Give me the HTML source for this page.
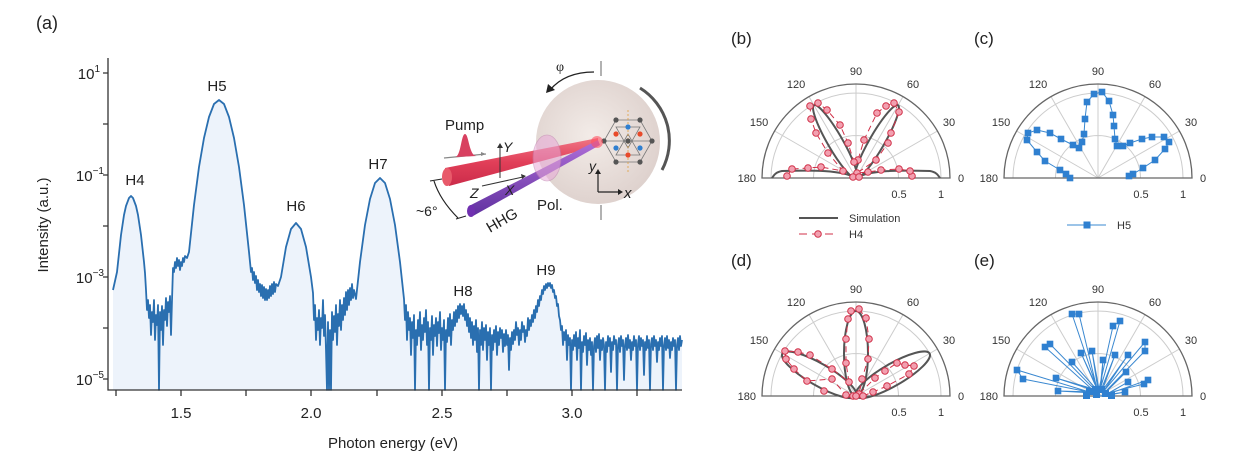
<!DOCTYPE html>
<html><head><meta charset="utf-8"><style>
html,body{margin:0;padding:0;background:#fff;}
svg{display:block;font-family:"Liberation Sans",Arial,sans-serif;}
</style></head><body>
<svg width="1254" height="468" viewBox="0 0 1254 468" xmlns="http://www.w3.org/2000/svg">
<defs>
<linearGradient id="red" x1="0" y1="0" x2="0" y2="1"><stop offset="0" stop-color="#f07080"/><stop offset="0.5" stop-color="#e03550"/><stop offset="1" stop-color="#c82040"/></linearGradient>
<linearGradient id="pur" x1="0" y1="0" x2="0" y2="1"><stop offset="0" stop-color="#b070d8"/><stop offset="1" stop-color="#6030a0"/></linearGradient>
<radialGradient id="disc" cx="0.45" cy="0.45" r="0.6"><stop offset="0" stop-color="#f3ece8"/><stop offset="1" stop-color="#ddd0cc"/></radialGradient>
<g id="frm">
<path d="M-42.5,0 A42.5,42.5 0 0 1 42.5,0 M-85,0 A85,85 0 0 1 85,0 M0,0 L81.4,-47 M0,0 L47,-81.4 M0,0 L0,-94 M0,0 L-47,-81.4 M0,0 L-81.4,-47" fill="none" stroke="#ccc" stroke-width="1"/>
<path d="M-94,0 A94,94 0 0 1 94,0 Z" fill="none" stroke="#666" stroke-width="1.3"/>
</g>
</defs>
<rect width="1254" height="468" fill="#fff"/>
<text x="36" y="29" font-size="18" fill="#222">(a)</text>

<!-- spectrum -->
<path id="spec" fill="#edf3fb" stroke="none" d="M113,390 L113,290 117,272 121,235 124,215 126,206 129,198 131,196 133,198 136,206 138,215 141,235 144,262 145,273 146,290 147,310 148,300 149,318 150,305 151,335 152,312 153,322 154,300 155,340 156,315 157,325 158,305 159,390 160,312 161,330 162,306 163,345 164,310 165,320 166,298 167,326 168,302 169,312 170,296 171,335 172,300 173,268 174,272 175,262 176,268 177,258 178,266 179,260 180,270 181,262 182,266 183,258 184,262 185,256 187,258 189,252 194,205 199,167 204,138 209,117 214,104 219,100 224,104 229,117 234,138 239,167 244,205 249,252 250,262 251,272 252,268 253,280 254,272 255,283 256,276 257,290 258,280 259,292 260,284 261,296 262,285 263,298 264,287 265,300 266,289 267,300 268,290 269,298 270,286 271,296 272,284 273,294 274,282 275,292 276,284 278,286 281,277 286,247 291,229 296,223 301,229 306,247 311,277 313,293 314,320 315,305 316,340 317,318 318,330 319,310 320,345 321,318 322,328 323,300 324,336 325,315 326,350 327,390 328,322 329,390 330,330 331,390 332,312 333,340 334,316 335,332 336,305 337,345 338,314 339,326 340,300 341,330 342,305 343,320 344,298 345,315 346,292 347,310 348,290 349,305 350,288 351,300 352,284 353,298 354,290 356,299 360,262 365,225 370,199 375,183 380,178 385,183 390,199 395,225 400,262 404,299 405,320 406,305 407,340 408,312 409,330 410,318 411,355 412,322 413,338 414,315 415,390 416,330 417,345 418,320 419,336 420,312 421,350 422,325 423,340 424,318 425,332 426,310 427,345 428,322 429,390 430,328 431,340 432,316 433,355 434,325 435,336 436,318 437,346 438,322 439,333 440,312 441,350 442,328 443,340 444,320 445,390 446,330 447,342 448,318 449,336 450,314 451,345 452,320 453,330 454,312 455,326 456,310 457,322 458,306 459,318 460,304 461,314 462,306 463,316 464,304 465,320 466,310 467,326 468,314 469,332 470,318 471,338 472,322 473,345 474,326 475,340 476,320 477,352 478,328 479,390 480,330 481,345 482,322 483,350 484,328 485,340 486,325 487,360 488,332 489,345 490,328 491,390 492,335 493,350 494,330 495,342 496,326 497,355 498,332 499,345 500,328 501,338 502,330 503,352 504,334 505,346 506,330 507,345 508,335 509,370 510,338 511,350 512,332 513,344 514,330 515,340 516,322 517,335 518,328 519,345 520,330 521,340 522,322 523,332 524,326 525,342 526,330 527,336 528,318 529,330 530,320 531,326 532,315 533,322 534,310 535,318 536,306 537,312 538,300 539,306 540,296 541,300 542,290 543,294 544,286 545,290 546,284 547,288 548,283 549,286 550,283 551,288 552,285 553,292 554,290 555,298 556,296 557,306 558,304 559,316 560,320 561,330 562,326 563,345 564,332 565,340 566,330 567,360 568,335 569,345 570,338 571,390 572,340 573,350 574,335 575,346 576,332 577,360 578,338 579,348 580,330 581,390 582,342 583,352 584,336 585,345 586,333 587,365 588,340 589,350 590,338 591,355 592,342 593,390 594,346 595,338 596,352 597,336 598,348 599,334 600,360 601,340 602,350 603,338 604,345 605,390 606,342 607,352 608,336 609,346 610,338 611,372 612,342 613,350 614,336 615,344 616,340 617,390 618,345 619,338 620,352 621,336 622,346 623,340 624,380 625,345 626,338 627,350 628,335 629,348 630,340 631,360 632,342 633,350 634,336 635,346 636,340 637,390 638,344 639,336 640,350 641,338 642,346 643,340 644,375 645,342 646,350 647,336 648,348 649,340 650,390 651,344 652,338 653,350 654,336 655,346 656,340 657,362 658,342 659,350 660,338 661,346 662,336 663,390 664,345 665,338 666,350 667,336 668,348 669,340 670,358 671,342 672,350 673,338 674,346 675,340 676,390 677,345 678,338 679,350 680,336 681,346 682,340 L682,390 Z"/>
<path fill="none" stroke="#2a6fb0" stroke-width="1.8" stroke-linejoin="round" d="M113,290 117,272 121,235 124,215 126,206 129,198 131,196 133,198 136,206 138,215 141,235 144,262 145,273 146,290 147,310 148,300 149,318 150,305 151,335 152,312 153,322 154,300 155,340 156,315 157,325 158,305 159,390 160,312 161,330 162,306 163,345 164,310 165,320 166,298 167,326 168,302 169,312 170,296 171,335 172,300 173,268 174,272 175,262 176,268 177,258 178,266 179,260 180,270 181,262 182,266 183,258 184,262 185,256 187,258 189,252 194,205 199,167 204,138 209,117 214,104 219,100 224,104 229,117 234,138 239,167 244,205 249,252 250,262 251,272 252,268 253,280 254,272 255,283 256,276 257,290 258,280 259,292 260,284 261,296 262,285 263,298 264,287 265,300 266,289 267,300 268,290 269,298 270,286 271,296 272,284 273,294 274,282 275,292 276,284 278,286 281,277 286,247 291,229 296,223 301,229 306,247 311,277 313,293 314,320 315,305 316,340 317,318 318,330 319,310 320,345 321,318 322,328 323,300 324,336 325,315 326,350 327,390 328,322 329,390 330,330 331,390 332,312 333,340 334,316 335,332 336,305 337,345 338,314 339,326 340,300 341,330 342,305 343,320 344,298 345,315 346,292 347,310 348,290 349,305 350,288 351,300 352,284 353,298 354,290 356,299 360,262 365,225 370,199 375,183 380,178 385,183 390,199 395,225 400,262 404,299 405,320 406,305 407,340 408,312 409,330 410,318 411,355 412,322 413,338 414,315 415,390 416,330 417,345 418,320 419,336 420,312 421,350 422,325 423,340 424,318 425,332 426,310 427,345 428,322 429,390 430,328 431,340 432,316 433,355 434,325 435,336 436,318 437,346 438,322 439,333 440,312 441,350 442,328 443,340 444,320 445,390 446,330 447,342 448,318 449,336 450,314 451,345 452,320 453,330 454,312 455,326 456,310 457,322 458,306 459,318 460,304 461,314 462,306 463,316 464,304 465,320 466,310 467,326 468,314 469,332 470,318 471,338 472,322 473,345 474,326 475,340 476,320 477,352 478,328 479,390 480,330 481,345 482,322 483,350 484,328 485,340 486,325 487,360 488,332 489,345 490,328 491,390 492,335 493,350 494,330 495,342 496,326 497,355 498,332 499,345 500,328 501,338 502,330 503,352 504,334 505,346 506,330 507,345 508,335 509,370 510,338 511,350 512,332 513,344 514,330 515,340 516,322 517,335 518,328 519,345 520,330 521,340 522,322 523,332 524,326 525,342 526,330 527,336 528,318 529,330 530,320 531,326 532,315 533,322 534,310 535,318 536,306 537,312 538,300 539,306 540,296 541,300 542,290 543,294 544,286 545,290 546,284 547,288 548,283 549,286 550,283 551,288 552,285 553,292 554,290 555,298 556,296 557,306 558,304 559,316 560,320 561,330 562,326 563,345 564,332 565,340 566,330 567,360 568,335 569,345 570,338 571,390 572,340 573,350 574,335 575,346 576,332 577,360 578,338 579,348 580,330 581,390 582,342 583,352 584,336 585,345 586,333 587,365 588,340 589,350 590,338 591,355 592,342 593,390 594,346 595,338 596,352 597,336 598,348 599,334 600,360 601,340 602,350 603,338 604,345 605,390 606,342 607,352 608,336 609,346 610,338 611,372 612,342 613,350 614,336 615,344 616,340 617,390 618,345 619,338 620,352 621,336 622,346 623,340 624,380 625,345 626,338 627,350 628,335 629,348 630,340 631,360 632,342 633,350 634,336 635,346 636,340 637,390 638,344 639,336 640,350 641,338 642,346 643,340 644,375 645,342 646,350 647,336 648,348 649,340 650,390 651,344 652,338 653,350 654,336 655,346 656,340 657,362 658,342 659,350 660,338 661,346 662,336 663,390 664,345 665,338 666,350 667,336 668,348 669,340 670,358 671,342 672,350 673,338 674,346 675,340 676,390 677,345 678,338 679,350 680,336 681,346 682,340"/>

<!-- axes -->
<g stroke="#333" stroke-width="1.3" fill="none">
<path d="M108,58 V390 H682"/>
<path d="M103,73H108M103,124H108M103,175H108M103,226H108M103,277H108M103,328H108M103,379H108"/>
<path d="M116,390V396M181,390V396M246,390V396M311,390V396M377,390V396M442,390V396M507,390V396M572,390V396M637,390V396"/>
</g>
<g font-size="15" fill="#222" text-anchor="end">
<text x="100" y="79">10<tspan font-size="10" dy="-7">1</tspan></text>
<text x="104" y="181">10<tspan font-size="10" dy="-7">−1</tspan></text>
<text x="104" y="283">10<tspan font-size="10" dy="-7">−3</tspan></text>
<text x="104" y="385">10<tspan font-size="10" dy="-7">−5</tspan></text>
</g>
<g font-size="15" fill="#222" text-anchor="middle">
<text x="181" y="418">1.5</text><text x="311" y="418">2.0</text><text x="442" y="418">2.5</text><text x="572" y="418">3.0</text>
<text x="393" y="448">Photon energy (eV)</text>
<text transform="translate(48,225) rotate(-90)">Intensity (a.u.)</text>
<text x="135" y="185">H4</text><text x="217" y="91">H5</text><text x="296" y="211">H6</text>
<text x="378" y="169">H7</text><text x="463" y="296">H8</text><text x="546" y="275">H9</text>
</g>

<!-- inset -->
<g>
<line x1="601" y1="61" x2="601" y2="76" stroke="#999" stroke-width="1.5"/>
<line x1="601" y1="205" x2="601" y2="220" stroke="#999" stroke-width="1.5"/>
<circle cx="598" cy="142" r="62" fill="url(#disc)"/>
<path d="M640,88 A62,62 0 0 1 662,170" stroke="#555" stroke-width="3" fill="none"/>
<path d="M594,72 Q565,72 550,90" stroke="#222" stroke-width="1.3" fill="none"/>
<path d="M546,93 L548,84 L555,90 Z" fill="#222"/>
<text x="556" y="71" font-size="14" font-family="Liberation Serif,serif" fill="#222">φ</text>
<g stroke="#777" stroke-width="0.8" fill="none">
<polygon points="604,141 616,120 640,120 652,141 640,162 616,162"/>
<polygon points="616,127 640,127 628,148"/><polygon points="616,155 640,155 628,134"/>
<line x1="604" y1="141" x2="652" y2="141"/>
</g>
<line x1="628" y1="110" x2="628" y2="172" stroke="#e0a040" stroke-width="0.8" stroke-dasharray="2,2"/>
<g fill="#555"><circle cx="604" cy="141" r="2.6"/><circle cx="652" cy="141" r="2.6"/><circle cx="616" cy="120" r="2.6"/><circle cx="640" cy="120" r="2.6"/><circle cx="616" cy="162" r="2.6"/><circle cx="640" cy="162" r="2.6"/><circle cx="628" cy="141" r="2.6"/></g>
<g fill="#e84a2a"><circle cx="616" cy="134" r="2.6"/><circle cx="640" cy="134" r="2.6"/><circle cx="628" cy="155" r="2.6"/></g>
<g fill="#2f7fd0"><circle cx="628" cy="127" r="2.6"/><circle cx="616" cy="148" r="2.6"/><circle cx="640" cy="148" r="2.6"/></g>
<path d="M445,168 L598,138 L598,146 L449,186 Z" fill="url(#red)" opacity="0.95"/>
<ellipse cx="447" cy="177" rx="5" ry="9" fill="#e85a6a"/>
<path d="M469,206 L598,140 L600,145 L473,216 Z" fill="url(#pur)"/>
<ellipse cx="471" cy="211" rx="4" ry="6" fill="#7030b0"/>
<circle cx="597" cy="142" r="6" fill="#ff5060" opacity="0.6"/>
<ellipse cx="547" cy="158" rx="14" ry="23" fill="#e8a8d8" opacity="0.55" stroke="#c080b0" stroke-width="0.8"/>
<path d="M444,158 L486,154" stroke="#888" stroke-width="1.2"/><path d="M486,154 l-5,-2 l0,4 z" fill="#888"/>
<path d="M455,157 C461,157 461,134 465,134 C469,134 469,157 477,156 Z" fill="#d84060"/>
<text x="445" y="130" font-size="15" fill="#222">Pump</text>
<g stroke="#333" stroke-width="1" fill="none"><path d="M500,178 V146"/><path d="M482,186 L523,177"/></g>
<path d="M500,143 l-3,5 h6z M526,176 l-5,-2 l1,5z" fill="#333"/>
<text x="503" y="152" font-size="14" font-style="italic" fill="#222">Y</text>
<text x="470" y="198" font-size="14" font-style="italic" fill="#222">Z</text>
<text x="505" y="195" font-size="14" font-style="italic" fill="#222">X</text>
<path d="M434,181 Q440,200 458,218" stroke="#222" stroke-width="1.2" fill="none"/>
<line x1="430" y1="181" x2="442" y2="179" stroke="#222"/><line x1="456" y1="219" x2="466" y2="216" stroke="#222"/>
<text x="416" y="216" font-size="14" fill="#222">~6°</text>
<text transform="translate(490,233) rotate(-30)" font-size="15" fill="#222">HHG</text>
<text x="537" y="210" font-size="15" fill="#222">Pol.</text>
<g stroke="#222" stroke-width="1.2"><path d="M598,192 V172 M598,192 H620"/></g>
<path d="M598,169 l-3,5 h6z M623,192 l-5,-3 v6z" fill="#222"/>
<text x="589" y="171" font-size="14" font-style="italic" fill="#222">y</text>
<text x="624" y="198" font-size="15" font-style="italic" fill="#222">x</text>
</g>

<g font-size="17" fill="#222">
<text x="731" y="44">(b)</text><text x="974" y="44">(c)</text>
<text x="731" y="266">(d)</text><text x="974" y="266">(e)</text>
</g>

<!-- polar frames -->
<use href="#frm" transform="translate(856,178)"/>
<use href="#frm" transform="translate(1098,178)"/>
<use href="#frm" transform="translate(856,396)"/>
<use href="#frm" transform="translate(1098,396)"/>
<g font-size="11" fill="#333" text-anchor="middle">
<g transform="translate(856,178)"><text x="0" y="-103">90</text><text x="-60" y="-90">120</text><text x="57" y="-90">60</text><text x="-97" y="-52">150</text><text x="93" y="-52">30</text><text x="-100" y="4" text-anchor="end">180</text><text x="102" y="4" text-anchor="start">0</text><text x="43" y="20">0.5</text><text x="85" y="20">1</text></g>
<g transform="translate(1098,178)"><text x="0" y="-103">90</text><text x="-60" y="-90">120</text><text x="57" y="-90">60</text><text x="-97" y="-52">150</text><text x="93" y="-52">30</text><text x="-100" y="4" text-anchor="end">180</text><text x="102" y="4" text-anchor="start">0</text><text x="43" y="20">0.5</text><text x="85" y="20">1</text></g>
<g transform="translate(856,396)"><text x="0" y="-103">90</text><text x="-60" y="-90">120</text><text x="57" y="-90">60</text><text x="-97" y="-52">150</text><text x="93" y="-52">30</text><text x="-100" y="4" text-anchor="end">180</text><text x="102" y="4" text-anchor="start">0</text><text x="43" y="20">0.5</text><text x="85" y="20">1</text></g>
<g transform="translate(1098,396)"><text x="0" y="-103">90</text><text x="-60" y="-90">120</text><text x="57" y="-90">60</text><text x="-97" y="-52">150</text><text x="93" y="-52">30</text><text x="-100" y="4" text-anchor="end">180</text><text x="102" y="4" text-anchor="start">0</text><text x="43" y="20">0.5</text><text x="85" y="20">1</text></g>
</g>

<!-- (b) simulation -->
<g fill="none" stroke="#555" stroke-width="2">
<ellipse cx="877" cy="141.6" rx="42" ry="7.5" transform="rotate(-60 877 141.6)"/>
<ellipse cx="835" cy="141.6" rx="42" ry="7.5" transform="rotate(60 835 141.6)"/>
<path d="M856,178 C870,170 900,170 930,171 C936,172 938,175 940,178"/>
<path d="M856,178 C842,170 812,170 782,171 C776,172 774,175 772,178"/>
</g>
<polyline fill="none" stroke="#d03048" stroke-width="1" stroke-dasharray="6,4" points="912,176 910,171 899,169 881,170 868,172 857,173 876,160 888,143 891,133 899,112 894,103 886,106 877,113 864,140 858,160 854,162 848,143 840,125 827,110 818,103 810,106 811,119 816,133 828,153 843,171 821,167 808,168 792,169 787,176"/>
<g fill="#f2a0b0" stroke="#d03048" stroke-width="1">
<circle cx="912" cy="176" r="3.3"/><circle cx="910" cy="171" r="3.3"/><circle cx="899" cy="169" r="3.3"/><circle cx="881" cy="170" r="3.3"/><circle cx="868" cy="172" r="3.3"/><circle cx="857" cy="173" r="3.3"/><circle cx="876" cy="160" r="3.3"/><circle cx="888" cy="143" r="3.3"/><circle cx="891" cy="133" r="3.3"/><circle cx="899" cy="112" r="3.3"/><circle cx="894" cy="103" r="3.3"/><circle cx="886" cy="106" r="3.3"/><circle cx="877" cy="113" r="3.3"/><circle cx="864" cy="140" r="3.3"/><circle cx="858" cy="160" r="3.3"/><circle cx="854" cy="162" r="3.3"/><circle cx="848" cy="143" r="3.3"/><circle cx="840" cy="125" r="3.3"/><circle cx="827" cy="110" r="3.3"/><circle cx="818" cy="103" r="3.3"/><circle cx="810" cy="106" r="3.3"/><circle cx="811" cy="119" r="3.3"/><circle cx="816" cy="133" r="3.3"/><circle cx="828" cy="153" r="3.3"/><circle cx="843" cy="171" r="3.3"/><circle cx="821" cy="167" r="3.3"/><circle cx="808" cy="168" r="3.3"/><circle cx="792" cy="169" r="3.3"/><circle cx="787" cy="176" r="3.3"/><circle cx="853" cy="177" r="3.3"/><circle cx="859" cy="177" r="3.3"/>
</g>

<!-- (d) simulation -->
<g fill="none" stroke="#555" stroke-width="2">
<ellipse cx="856" cy="353.5" rx="12" ry="42.5"/>
<ellipse cx="819.2" cy="374.75" rx="42.5" ry="11" transform="rotate(30 819.2 374.75)"/>
<ellipse cx="892.8" cy="374.75" rx="42.5" ry="11" transform="rotate(-30 892.8 374.75)"/>
</g>
<polyline fill="none" stroke="#d03048" stroke-width="1" stroke-dasharray="6,4" points="863,396 873,392 887,386 909,374 914,366 905,365 897,363 885,371 875,378 859,394 862,379 868,359 869,339 866,318 859,309 851,311 848,319 846,339 846,363 849,382 832,369 810,355 798,352 785,351 786,359 794,369 807,381 832,379 846,395 853,396"/>
<g fill="#f2a0b0" stroke="#d03048" stroke-width="1">
<circle cx="851" cy="311" r="3.3"/><circle cx="859" cy="309" r="3.3"/><circle cx="866" cy="318" r="3.3"/><circle cx="869" cy="339" r="3.3"/><circle cx="868" cy="359" r="3.3"/><circle cx="862" cy="379" r="3.3"/><circle cx="849" cy="382" r="3.3"/><circle cx="846" cy="363" r="3.3"/><circle cx="846" cy="339" r="3.3"/><circle cx="848" cy="319" r="3.3"/>
<circle cx="785" cy="351" r="3.3"/><circle cx="786" cy="359" r="3.3"/><circle cx="798" cy="352" r="3.3"/><circle cx="810" cy="355" r="3.3"/><circle cx="794" cy="369" r="3.3"/><circle cx="807" cy="381" r="3.3"/><circle cx="832" cy="379" r="3.3"/><circle cx="832" cy="369" r="3.3"/><circle cx="824" cy="391" r="3.3"/><circle cx="846" cy="395" r="3.3"/><circle cx="853" cy="396" r="3.3"/>
<circle cx="897" cy="363" r="3.3"/><circle cx="905" cy="365" r="3.3"/><circle cx="914" cy="366" r="3.3"/><circle cx="909" cy="374" r="3.3"/><circle cx="885" cy="371" r="3.3"/><circle cx="875" cy="378" r="3.3"/><circle cx="887" cy="386" r="3.3"/><circle cx="873" cy="392" r="3.3"/><circle cx="859" cy="394" r="3.3"/><circle cx="856" cy="396" r="3.3"/><circle cx="863" cy="396" r="3.3"/>
</g>

<!-- (c) H5 -->
<polyline fill="none" stroke="#3a88d0" stroke-width="1" points="1070,178 1066,174 1060,170 1045,161 1037,152 1027,140 1028,133 1037,130 1050,133 1061,139 1073,145 1079,148 1082,142 1084,134 1085,119 1087,102 1094,94 1102,92 1109,101 1113,115 1114,126 1115,139 1117,146 1123,146 1130,143 1142,139 1152,137 1164,137 1169,142 1165,149 1155,160 1143,168 1133,174 1129,176"/>
<g fill="#2f80d0">
<rect x="1066.7" y="174.7" width="6.6" height="6.6"/><rect x="1062.7" y="170.7" width="6.6" height="6.6"/><rect x="1056.7" y="166.7" width="6.6" height="6.6"/><rect x="1041.7" y="157.7" width="6.6" height="6.6"/><rect x="1033.7" y="148.7" width="6.6" height="6.6"/><rect x="1023.7" y="136.7" width="6.6" height="6.6"/><rect x="1024.7" y="129.7" width="6.6" height="6.6"/><rect x="1033.7" y="126.7" width="6.6" height="6.6"/><rect x="1046.7" y="129.7" width="6.6" height="6.6"/><rect x="1057.7" y="135.7" width="6.6" height="6.6"/><rect x="1069.7" y="141.7" width="6.6" height="6.6"/><rect x="1075.7" y="144.7" width="6.6" height="6.6"/><rect x="1078.7" y="138.7" width="6.6" height="6.6"/><rect x="1080.7" y="130.7" width="6.6" height="6.6"/><rect x="1081.7" y="115.7" width="6.6" height="6.6"/><rect x="1083.7" y="98.7" width="6.6" height="6.6"/><rect x="1090.7" y="90.7" width="6.6" height="6.6"/><rect x="1098.7" y="88.7" width="6.6" height="6.6"/><rect x="1105.7" y="97.7" width="6.6" height="6.6"/><rect x="1109.7" y="111.7" width="6.6" height="6.6"/><rect x="1110.7" y="122.7" width="6.6" height="6.6"/><rect x="1111.7" y="135.7" width="6.6" height="6.6"/><rect x="1113.7" y="142.7" width="6.6" height="6.6"/><rect x="1119.7" y="142.7" width="6.6" height="6.6"/><rect x="1126.7" y="139.7" width="6.6" height="6.6"/><rect x="1138.7" y="135.7" width="6.6" height="6.6"/><rect x="1148.7" y="133.7" width="6.6" height="6.6"/><rect x="1160.7" y="133.7" width="6.6" height="6.6"/><rect x="1165.7" y="138.7" width="6.6" height="6.6"/><rect x="1161.7" y="145.7" width="6.6" height="6.6"/><rect x="1151.7" y="156.7" width="6.6" height="6.6"/><rect x="1139.7" y="164.7" width="6.6" height="6.6"/><rect x="1129.7" y="170.7" width="6.6" height="6.6"/><rect x="1125.7" y="172.7" width="6.6" height="6.6"/>
</g>

<!-- (e) -->
<polyline fill="none" stroke="#3a88d0" stroke-width="1" points="1096,394 1017,370 1023,379 1094,393 1058,391 1095,392 1045,347 1050,344 1096,391 1056,378 1097,390 1072,362 1098,391 1072,314 1079,314 1097,389 1081,353 1098,390 1092,351 1099,389 1113,326 1120,321 1100,390 1103,360 1101,390 1115,355 1102,391 1128,355 1103,392 1145,342 1145,351 1104,393 1126,372 1104,394 1144,384 1148,380 1105,395 1128,382 1104,396 1125,392 1100,396"/>
<g fill="#2f80d0">
<rect x="1013.7" y="366.7" width="6.6" height="6.6"/><rect x="1019.7" y="375.7" width="6.6" height="6.6"/><rect x="1054.7" y="387.7" width="6.6" height="6.6"/><rect x="1041.7" y="343.7" width="6.6" height="6.6"/><rect x="1046.7" y="340.7" width="6.6" height="6.6"/><rect x="1052.7" y="374.7" width="6.6" height="6.6"/><rect x="1068.7" y="358.7" width="6.6" height="6.6"/><rect x="1077.7" y="349.7" width="6.6" height="6.6"/><rect x="1068.7" y="310.7" width="6.6" height="6.6"/><rect x="1075.7" y="310.7" width="6.6" height="6.6"/><rect x="1088.7" y="347.7" width="6.6" height="6.6"/><rect x="1099.7" y="356.7" width="6.6" height="6.6"/><rect x="1109.7" y="322.7" width="6.6" height="6.6"/><rect x="1116.7" y="317.7" width="6.6" height="6.6"/><rect x="1111.7" y="351.7" width="6.6" height="6.6"/><rect x="1124.7" y="351.7" width="6.6" height="6.6"/><rect x="1141.7" y="338.7" width="6.6" height="6.6"/><rect x="1141.7" y="347.7" width="6.6" height="6.6"/><rect x="1122.7" y="368.7" width="6.6" height="6.6"/><rect x="1140.7" y="380.7" width="6.6" height="6.6"/><rect x="1144.7" y="376.7" width="6.6" height="6.6"/><rect x="1124.7" y="378.7" width="6.6" height="6.6"/><rect x="1121.7" y="388.7" width="6.6" height="6.6"/>
<rect x="1086" y="388" width="7" height="7"/><rect x="1092" y="386" width="7" height="7"/><rect x="1098" y="386" width="7" height="7"/><rect x="1102" y="390" width="7" height="7"/><rect x="1093" y="391" width="7" height="7"/><rect x="1083" y="392" width="7" height="7"/><rect x="1108" y="392" width="7" height="7"/>
</g>

<!-- legends -->
<g font-size="11" fill="#333">
<line x1="799" y1="218" x2="838" y2="218" stroke="#555" stroke-width="2"/>
<text x="849" y="222">Simulation</text>
<line x1="799" y1="234" x2="838" y2="234" stroke="#d03048" stroke-width="1" stroke-dasharray="8,5"/>
<circle cx="818" cy="234" r="3.3" fill="#f2a0b0" stroke="#d03048"/>
<text x="849" y="238">H4</text>
<line x1="1067" y1="225" x2="1106" y2="225" stroke="#3a88d0" stroke-width="1"/>
<rect x="1083.5" y="221.5" width="7" height="7" fill="#2f80d0"/>
<text x="1117" y="229">H5</text>
</g>
</svg>
</body></html>
